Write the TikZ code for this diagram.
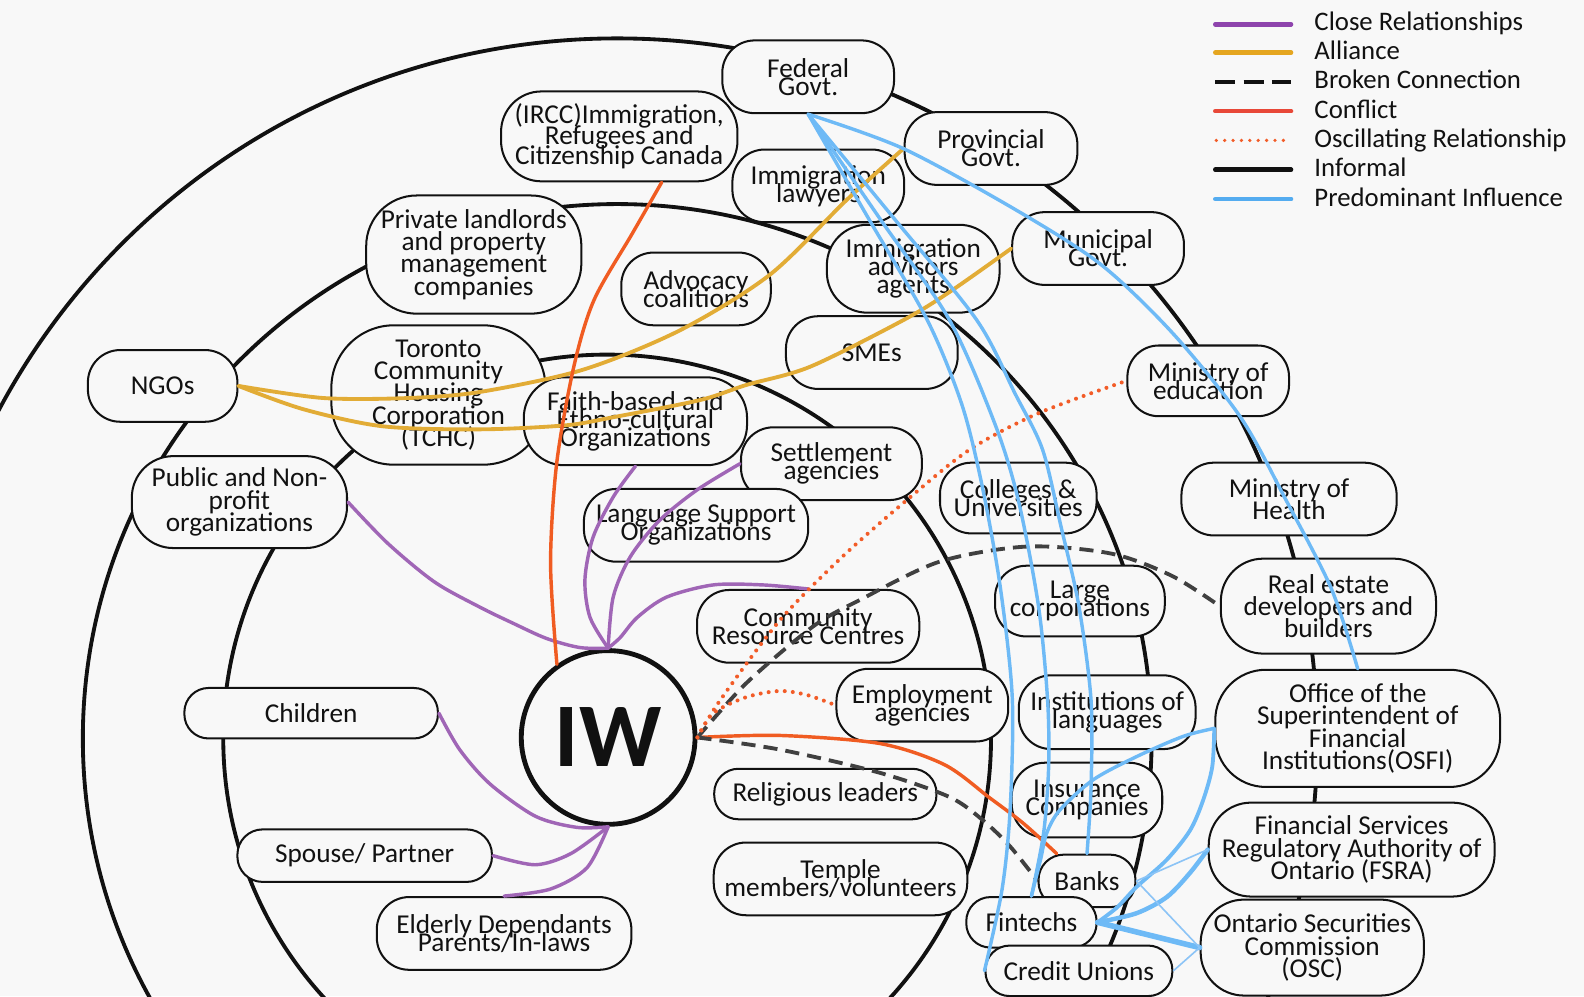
\documentclass[tikz,border=0pt]{standalone}
\usepackage{fontspec}
\setmainfont{Carlito}
\lineskiplimit=-1000pt

% palette
\definecolor{bg}{RGB}{248,248,248}
\definecolor{ink}{RGB}{17,17,17}
\definecolor{closec}{RGB}{160,102,182}
\definecolor{closeleg}{RGB}{142,68,173}
\definecolor{alliance}{RGB}{226,172,54}
\definecolor{allianceleg}{RGB}{229,166,32}
\definecolor{conflict}{RGB}{240,92,34}
\definecolor{conflictleg}{RGB}{232,72,56}
\definecolor{oscill}{RGB}{242,92,40}
\definecolor{broken}{RGB}{64,64,64}
\definecolor{influence}{RGB}{110,186,246}
\definecolor{influenceleg}{RGB}{84,172,240}
\definecolor{influencethin}{RGB}{140,196,246}

\newcommand\tightfont{\fontsize{27}{18}\selectfont\lineskiplimit=-1000pt\relax}
\newcommand\midfont{\fontsize{27}{20}\selectfont\lineskiplimit=-1000pt\relax}
\newcommand\loosefont{\fontsize{27}{22}\selectfont\lineskiplimit=-1000pt\relax}

\tikzset{
  box/.style={draw=ink, line width=2pt, fill=bg, inner sep=0pt, align=center,
    text=ink, font=\tightfont},
  spaced/.style={font=\loosefont},
  midspaced/.style={font=\midfont},
  ring/.style={draw=ink, line width=3.8pt},
  conn/.style={line join=round, line cap=round},
  closerel/.style={conn, draw=closec, line width=3.4pt},
  alliancerel/.style={conn, draw=alliance, line width=3.8pt},
  conflictrel/.style={conn, draw=conflict, line width=3.4pt},
  brokenrel/.style={line join=round, draw=broken, line width=3.8pt, dash pattern=on 14pt off 8pt},
  oscrel/.style={draw=oscill, line width=4pt, line cap=round, dash pattern=on 0pt off 8pt},
  inflrel/.style={conn, draw=influence, line width=3.4pt},
  inflthin/.style={conn, draw=influencethin, line width=1.6pt},
  inflthick/.style={conn, draw=influence, line width=5.5pt},
  legline/.style={line width=4.5pt, line cap=round},
  legtext/.style={anchor=base west, inner sep=0pt, text=ink, font=\fontsize{26.5}{26.5}\selectfont},
}

\begin{document}
\begin{tikzpicture}[x=1pt,y=-1pt]
\useasboundingbox (0,0) rectangle (1568,986);
\fill[bg] (0,0) rectangle (1568,986);
\clip (0,0) rectangle (1568,986);

% concentric rings
\draw[ring] (601,731) circle[radius=380pt];
\draw[ring] (611,731) circle[radius=529pt];
\draw[ring] (611,731) circle[radius=693pt];

% actors
\node[box, minimum width=170pt, minimum height=72pt, rounded corners=32pt] (federal) at (800,76) {Federal\\Govt.};
\node[box, midspaced, minimum width=234pt, minimum height=89pt, rounded corners=40pt] (ircc) at (613,135) {(IRCC)Immigration,\\Refugees and\\Citizenship Canada};
\node[box, minimum width=171pt, minimum height=72pt, rounded corners=32pt] (prov) at (981,147) {Provincial\\Govt.};
\node[box, minimum width=170pt, minimum height=72pt, rounded corners=32pt] (lawyers) at (810,184) {Immigration\\lawyers};
\node[box, spaced, minimum width=213pt, minimum height=117pt, rounded corners=50pt] (landlords) at (469,252) {Private landlords\\and property\\management\\companies};
\node[box, minimum width=148pt, minimum height=72pt, rounded corners=32pt] (advocacy) at (689,286) {Advocacy\\coalitions};
\node[box, minimum width=171pt, minimum height=87pt, rounded corners=40pt] (advisors) at (904,266) {Immigration\\advisors\\agents};
\node[box, minimum width=170pt, minimum height=72pt, rounded corners=32pt] (municipal) at (1087,246) {Municipal\\Govt.};
\node[box, minimum width=148pt, minimum height=71pt, rounded corners=32pt] (ngo) at (161,382) {NGOs};
\node[box, spaced, minimum width=212pt, minimum height=138pt, rounded corners=62pt] (tchc) at (434,391) {Toronto\\Community\\Housing\\Corporation\\(TCHC)};
\node[box, minimum width=170pt, minimum height=72pt, rounded corners=32pt] (smes) at (863,349) {SMEs};
\node[box, minimum width=160pt, minimum height=70pt, rounded corners=31pt] (edu) at (1196,377) {Ministry of\\education};
\node[box, minimum width=221pt, minimum height=87pt, rounded corners=40pt] (faith) at (629,417) {Faith-based and\\Ethno-cultural\\Organizations};
\node[box, minimum width=179pt, minimum height=72pt, rounded corners=32pt] (settle) at (823,459) {Settlement\\agencies};
\node[box, spaced, minimum width=213pt, minimum height=91pt, rounded corners=41pt] (public) at (237,497) {Public and Non-\\profit\\organizations};
\node[box, minimum width=222pt, minimum height=72pt, rounded corners=32pt] (lang) at (689,520) {Language Support\\Organizations};
\node[box, minimum width=155pt, minimum height=70pt, rounded corners=31pt] (colleges) at (1008,493) {Colleges \&\\Universities};
\node[box, spaced, minimum width=213pt, minimum height=72pt, rounded corners=32pt] (health) at (1276,494) {Ministry of\\Health};
\node[box, minimum width=168pt, minimum height=70pt, rounded corners=31pt] (largecorp) at (1069,595) {Large\\corporations};
\node[box, spaced, minimum width=213pt, minimum height=94pt, rounded corners=42pt] (realestate) at (1315,600) {Real estate\\developers and\\builders};
\node[box, minimum width=220pt, minimum height=72pt, rounded corners=32pt] (crc) at (800,620) {Community\\Resource Centres};
\node[box, spaced, minimum width=282pt, minimum height=116pt, rounded corners=50pt] (osfi) at (1344,721) {Office of the\\Superintendent of\\Financial\\Institutions(OSFI)};
\node[box, minimum width=170pt, minimum height=72pt, rounded corners=32pt] (emp) at (913,698) {Employment\\agencies};
\node[box, minimum width=175pt, minimum height=73pt, rounded corners=32pt] (instlang) at (1096,705) {Institutions of\\languages};
\node[box, minimum width=251pt, minimum height=50pt, rounded corners=24pt] (children) at (308,706) {Children};
\node[box, minimum width=220pt, minimum height=50pt, rounded corners=24pt] (religious) at (817,786) {Religious leaders};
\node[box, minimum width=149pt, minimum height=74pt, rounded corners=33pt] (insurance) at (1076,792) {Insurance\\Companies};
\node[box, minimum width=252pt, minimum height=52pt, rounded corners=25pt] (spouse) at (361,847) {Spouse/ Partner};
\node[box, spaced, minimum width=283pt, minimum height=93pt, rounded corners=42pt] (fsra) at (1338,841) {Financial Services\\Regulatory Authority of\\Ontario (FSRA)};
\node[box, minimum width=251pt, minimum height=72pt, rounded corners=32pt] (temple) at (832,870) {Temple\\members/volunteers};
\node[box, minimum width=96pt, minimum height=52pt, rounded corners=25pt] (banks) at (1076,872) {Banks};
\node[box, minimum width=252pt, minimum height=72pt, rounded corners=32pt] (elderly) at (499,924) {Elderly Dependants\\Parents/In-laws};
\node[box, minimum width=129pt, minimum height=50pt, rounded corners=24pt] (fintechs) at (1021,913) {Fintechs};
\node[box, spaced, minimum width=221pt, minimum height=95pt, rounded corners=43pt] (osc) at (1299,938) {Ontario Securities\\Commission\\(OSC)};
\node[box, minimum width=185pt, minimum height=50pt, rounded corners=24pt] (cu) at (1068,961) {Credit Unions};

% the focal person
\node[draw=ink, circle, line width=4.8pt, fill=bg, minimum size=172pt, inner sep=0pt,
  text=ink, font=\fontsize{90}{90}\selectfont\bfseries] (iw) at (602,730) {IW};

% close relationships
\draw[closerel] plot[smooth] coordinates {(public.east) (384,538) (430,576) (475,601) (508,617) (541,632) (574,641) (iw.north)};
\draw[closerel] plot[smooth] coordinates {(faith.south) (607,492) (587,532) (579,574) (584,611) (iw.north)};
\draw[closerel] plot[smooth] coordinates {(settle.west) (690,485) (653,515) (624,551) (607,591) (iw.north)};
\draw[closerel] plot[smooth] coordinates {(crc.north) (755,579) (706,579) (660,591) (631,611) (614,631) (iw.north)};
\draw[closerel] plot[smooth] coordinates {(children.east) (455,742) (485,776) (530,808) (571,819) (iw.south)};
\draw[closerel] plot[smooth] coordinates {(spouse.east) (530,856) (565,845) (iw.south)};
\draw[closerel] plot[smooth] coordinates {(elderly.north) (545,880) (581,859) (iw.south)};

% alliances
\draw[alliancerel] plot[smooth] coordinates {(ngo.east) (320,394) (404,394) (475,388) (577,366) (673,327) (762,272) (838,198) (prov.west)};
\draw[alliancerel] plot[smooth] coordinates {(ngo.east) (300,405) (379,422) (475,425) (560,421) (607,413) (693,396) (739,381) (802,363) (894,317) (940,289) (municipal.west)};

% conflicts
\draw[conflictrel] plot[smooth] coordinates {([xshift=42pt]ircc.south) (626,231) (588,297) (568,363) (551,459) (545,558) (iw.125)};
\draw[conflictrel] plot[smooth] coordinates {(iw.east) (772,728) (871,736) (935,757) (980,790) (1013,815) ([xshift=-30pt]banks.north)};

% broken connections
\draw[brokenrel] plot[smooth] coordinates {(iw.east) (739,676) (805,620) (851,594) (930,556) (1017,541) (1100,548) (1160,570) (realestate.west)};
\draw[brokenrel] plot[smooth] coordinates {(iw.east) (772,742) (871,765) (940,789) (973,812) (1000,838) (banks.west)};

% oscillating relationships
\draw[oscrel] plot[smooth] coordinates {(iw.east) (713,693) (772,614) (835,550) (900,493) (960,445) (1028,409) (edu.west)};
\draw[oscrel] plot[smooth] coordinates {(iw.east) (706,706) (739,690) (772,684) (799,688) (emp.west)};

% predominant influence
\draw[inflrel] plot[smooth] coordinates {(federal.south) (859,215) (918,317) (952,400) (972,480) (990,580) (1002,690) (1000,800) (992,880) (cu.west)};
\draw[inflrel] plot[smooth] coordinates {(federal.south) (870,215) (940,317) (985,420) (1008,495) (1028,600) (1037,693) (1038,760) (1033,825) (fintechs.north)};
\draw[inflrel] plot[smooth] coordinates {(federal.south) (884,215) (967,317) (1005,390) (1032,445) (1050,520) (1068,600) (1080,693) (1080,780) (banks.north)};
\draw[inflrel] plot[smooth] coordinates {(federal.south) (894,147) (1006,208) (1090,262) (1161,330) (1228,413) (1273,495) (1318,583) (osfi.north)};
\draw[inflrel] plot[smooth] coordinates {(osfi.west) (1171,729) (1125,749) (1082,772) (1049,802) (1036,825) (1030,851) (fintechs.north)};
\draw[inflrel, line width=3.8pt] plot[smooth] coordinates {(osfi.west) (1200,759) (1191,792) (1178,822) (1155,851) (1125,878) (1106,898) (fintechs.east)};
\draw[inflrel, line width=4.4pt] plot[smooth] coordinates {(fintechs.east) (1125,904) (1155,888) (1178,864) (fsra.west)};
\draw[inflthick] (fintechs.east) -- (osc.west);
\draw[inflthin] (banks.east) -- (fsra.west);
\draw[inflthin] (banks.east) -- (osc.west);
\draw[inflthin] (cu.east) -- (osc.west);

% legend
\draw[legline, draw=closeleg] (1203,24) -- (1278,24);
\draw[legline, draw=allianceleg] (1203,52) -- (1278,52);
\draw[line width=4.5pt, draw=ink, dash pattern=on 20pt off 8pt] (1203,81) -- (1278,81);
\draw[legline, draw=conflictleg] (1203,110) -- (1278,110);
\draw[line width=3.6pt, draw=oscill, line cap=round, dash pattern=on 0pt off 8.3pt] (1204,139) -- (1278,139);
\draw[legline, draw=ink] (1203,168) -- (1278,168);
\draw[legline, draw=influenceleg] (1203,197) -- (1278,197);
\node[legtext] (lg1) at (1301,30.5) {Close Relationships};
\node[legtext] (lg2) at (1301,59) {Alliance};
\node[legtext] (lg3) at (1301,88) {Broken Connection};
\node[legtext] (lg4) at (1301,117) {Conflict};
\node[legtext] (lg5) at (1301,146) {Oscillating Relationship};
\node[legtext] (lg6) at (1301,174.5) {Informal};
\node[legtext] (lg7) at (1301,204) {Predominant Influence};
\end{tikzpicture}
\end{document}
